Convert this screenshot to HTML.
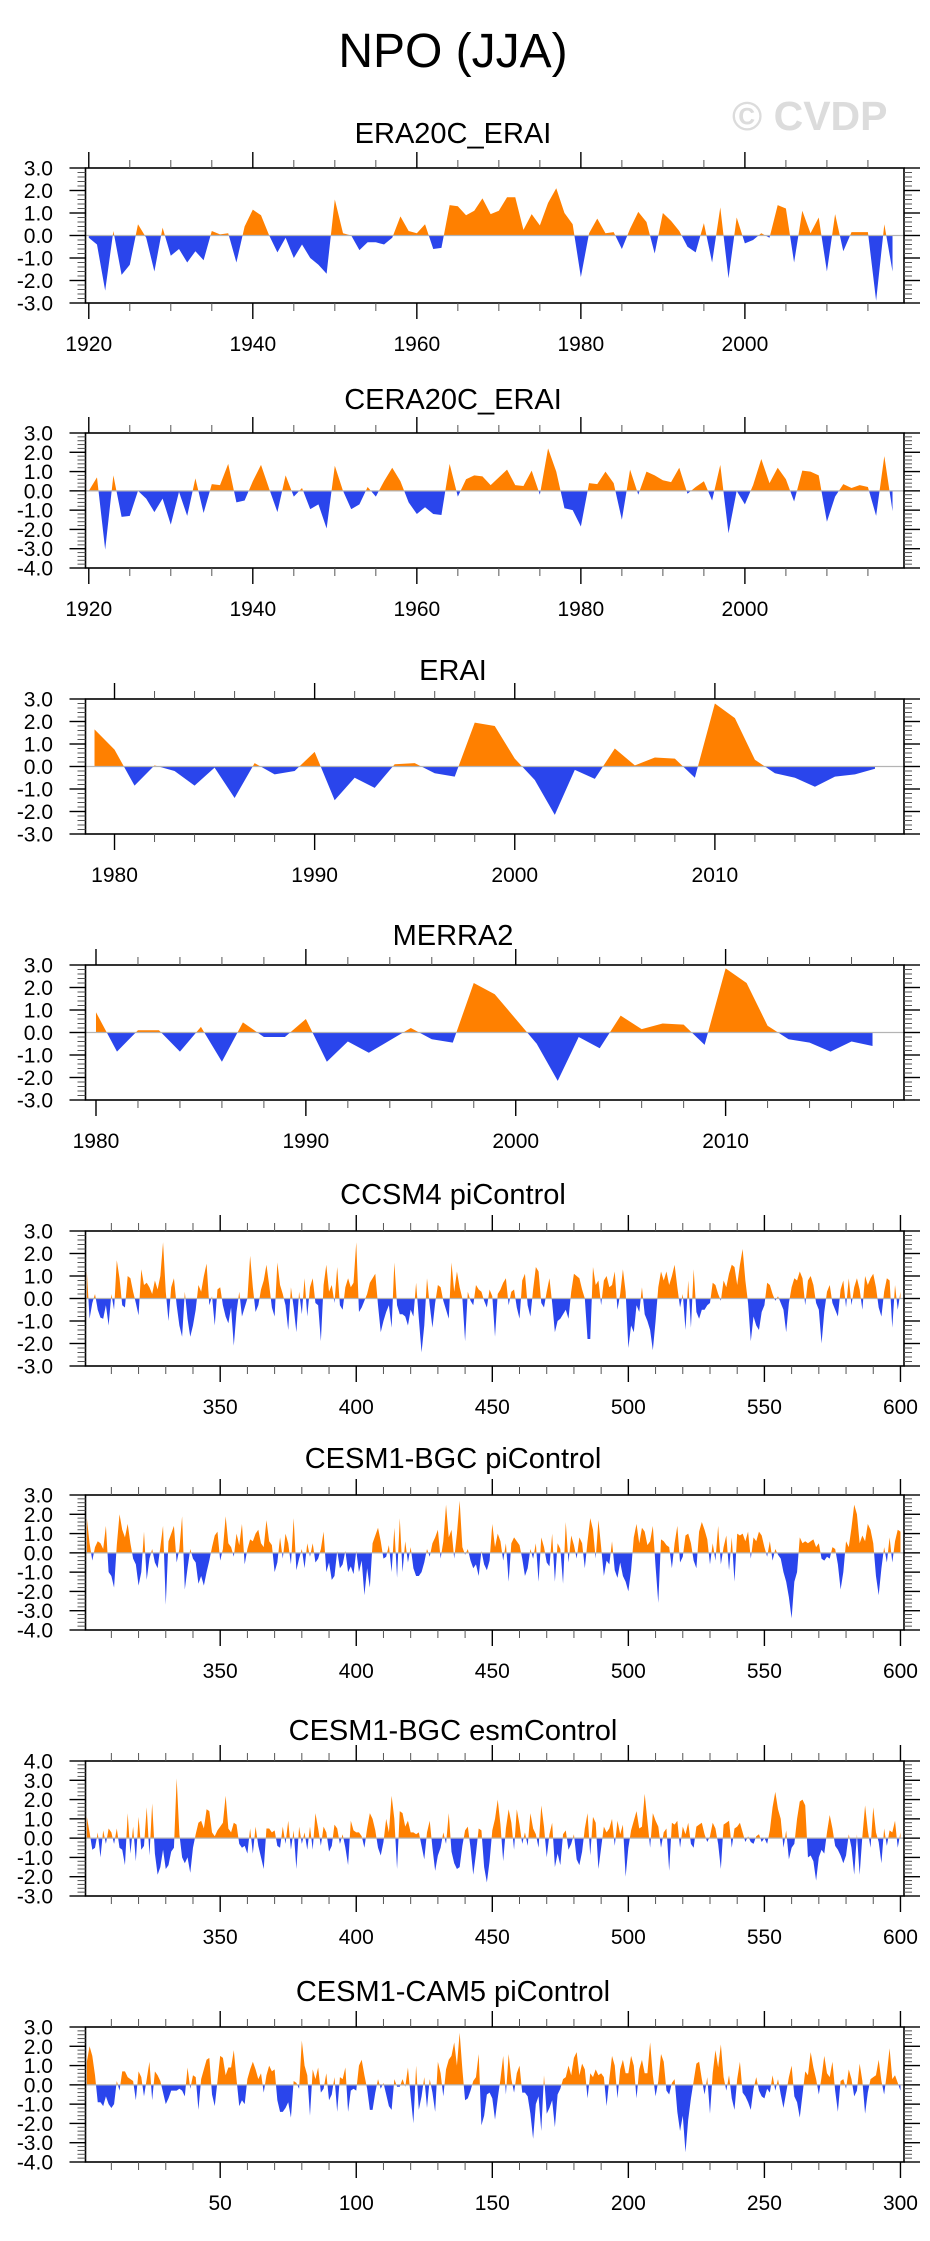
<!DOCTYPE html>
<html><head><meta charset="utf-8">
<style>
html,body{margin:0;padding:0;background:#fff;}
svg{display:block;font-family:"Liberation Sans",sans-serif;}
</style></head>
<body>
<svg id="chart" width="930" height="2241" viewBox="0 0 930 2241" xmlns="http://www.w3.org/2000/svg">
<text x="453" y="67" font-size="48" text-anchor="middle" fill="#000">NPO (JJA)</text>
<text x="732" y="130" font-size="41" font-weight="bold" fill="#dcdcdc">© CVDP</text>
</svg>
<script>
// ---- data ----
const era20cYears = [1920, 2018];
const era20cValues = [-0.1,-0.4,-2.45,0.2,-1.75,-1.3,0.5,-0.1,-1.6,0.35,-0.9,-0.6,-1.2,-0.7,-1.1,0.2,0.05,0.1,-1.2,0.4,1.15,0.9,0.0,-0.75,-0.1,-1.0,-0.4,-1.0,-1.3,-1.7,1.6,0.1,0.0,-0.65,-0.3,-0.3,-0.4,-0.1,0.85,0.2,0.1,0.5,-0.6,-0.55,1.35,1.3,0.9,1.1,1.65,0.95,1.1,1.7,1.7,0.25,0.95,0.45,1.45,2.1,1.0,0.5,-1.85,0.1,0.75,0.1,0.15,-0.6,0.3,1.05,0.6,-0.8,1.0,0.65,0.2,-0.5,-0.75,0.55,-1.2,1.25,-1.9,0.8,-0.35,-0.2,0.1,-0.1,1.35,1.2,-1.2,1.1,0.1,0.8,-1.6,0.95,-0.7,0.15,0.15,0.15,-2.9,0.5,-1.6];
const cera20cYears = [1920, 2018];
const cera20cValues = [0.0,0.7,-3.05,0.8,-1.35,-1.3,0.0,-0.4,-1.1,-0.4,-1.75,-0.05,-1.3,0.65,-1.15,0.35,0.3,1.4,-0.6,-0.5,0.5,1.35,0.1,-1.1,0.8,-0.3,0.15,-0.95,-0.7,-1.95,1.3,0.0,-0.95,-0.7,0.2,-0.3,0.5,1.2,0.5,-0.6,-1.2,-0.85,-1.2,-1.25,1.4,-0.3,0.6,0.8,0.75,0.3,0.7,1.1,0.3,0.25,1.05,-0.2,2.2,1.0,-0.9,-1.0,-1.85,0.4,0.35,1.0,0.4,-1.5,1.1,-0.2,1.0,0.8,0.55,0.45,1.2,-0.15,0.2,0.5,-0.5,1.35,-2.2,0.0,-0.7,0.3,1.65,0.4,1.2,0.6,-0.55,1.05,1.0,0.8,-1.6,-0.3,0.35,0.15,0.3,0.2,-1.3,1.8,-1.05];
const eraiYears = [1979, 2018];
const eraiValues = [1.65,0.75,-0.85,0.05,-0.2,-0.85,-0.05,-1.4,0.15,-0.35,-0.2,0.65,-1.5,-0.5,-0.95,0.1,0.15,-0.3,-0.45,1.95,1.8,0.35,-0.6,-2.15,-0.15,-0.55,0.8,0.05,0.4,0.35,-0.5,2.8,2.15,0.3,-0.3,-0.5,-0.9,-0.45,-0.35,-0.1];
const merra2Years = [1980, 2017];
const merra2Values = [0.9,-0.85,0.1,0.1,-0.85,0.25,-1.3,0.45,-0.2,-0.2,0.6,-1.3,-0.4,-0.9,-0.35,0.2,-0.3,-0.45,2.2,1.7,0.6,-0.5,-2.15,-0.2,-0.7,0.75,0.15,0.4,0.35,-0.55,2.85,2.2,0.3,-0.3,-0.45,-0.85,-0.4,-0.6];
const ccsm4Years = [301, 600];
const ccsm4Values = [1.2,-0.9,-0.2,0.2,-0.5,-0.85,-0.9,-0.3,-1.2,0.2,
-0.5,1.7,0.9,-0.3,-0.4,1.0,0.9,0.3,-0.2,-0.75,
1.3,0.6,0.7,0.5,0.2,0.8,0.4,1.0,2.5,0.3,
-1.0,0.5,0.9,-0.3,-1.2,-1.7,0.3,-0.9,-1.7,-1.2,
-0.5,0.6,0.3,1.0,1.55,-0.3,0.1,-1.2,0.4,0.5,
-0.3,-0.8,-1.1,-0.4,-2.1,-0.6,0.3,-0.8,-0.4,0.0,
1.9,0.5,-0.6,-0.3,0.4,0.8,1.5,0.6,-0.4,-0.8,
1.6,0.6,0.2,-0.3,-1.4,0.5,-0.4,-1.5,0.3,-0.7,
0.9,-0.8,0.5,0.9,-0.2,-0.3,-1.9,0.6,1.5,0.3,
0.6,-0.2,1.4,-0.3,-0.5,0.5,0.9,0.5,0.7,2.5,
-0.6,-0.4,-0.1,0.2,0.7,0.9,1.1,-0.3,-1.5,-1.0,
-0.6,-0.3,-1.3,1.6,-0.3,-0.7,-0.7,-0.8,-1.2,-0.5,
-0.8,0.7,-0.9,-2.4,-1.2,0.9,-0.3,-1.3,-0.2,0.6,
0.5,-0.1,-0.5,-0.9,1.6,0.3,1.2,0.5,0.0,-1.9,
0.3,-0.1,-0.3,0.6,0.4,0.3,-0.1,-0.4,0.4,0.1,
-1.7,0.2,0.4,0.7,0.9,-0.3,0.3,0.4,-0.4,-0.9,
0.8,1.1,-0.3,-0.8,0.4,1.4,1.2,-0.2,-0.4,0.3,
0.9,-0.2,-1.5,-1.0,-0.9,-0.7,-0.5,-0.9,0.3,1.1,
1.0,0.9,0.4,0.0,-1.8,-1.8,1.4,0.6,0.8,-0.3,
0.8,1.0,0.5,0.6,1.2,-0.5,0.2,1.3,0.3,-2.2,
-1.2,-1.5,-0.3,-0.6,0.5,-0.7,-1.0,-1.4,-2.3,-1.0,
0.5,1.2,0.8,1.2,0.6,1.0,1.5,0.5,-0.4,0.2,
-1.4,0.8,-1.3,1.3,-0.6,-0.9,-0.5,-0.5,-0.3,-0.2,
0.7,0.6,0.2,-0.1,0.8,0.5,1.1,1.5,1.4,0.6,
1.5,2.2,0.8,-0.2,-1.9,-0.8,-1.2,-1.4,-0.6,-0.3,
0.7,0.6,0.2,-0.1,0.1,-0.2,-0.5,-1.5,-0.2,0.5,
0.9,0.8,1.2,0.9,-0.3,0.8,1.0,0.6,-0.2,-0.5,
-2.0,-0.6,0.3,0.6,-0.2,-0.5,-0.8,0.4,0.8,-0.4,
0.9,-0.3,0.5,0.9,0.4,-0.5,1.0,0.6,0.9,1.1,
0.5,-0.4,-0.8,0.3,0.9,0.8,-1.3,0.6,-0.5,0.3];
const bgcPiYears = [301, 600];
const bgcPiValues = [1.8,0.5,-0.4,0.3,0.6,0.5,0.2,1.4,-1.0,-1.2,
-1.8,0.4,2.0,1.2,0.8,1.5,0.5,-0.3,-0.6,-1.7,
-1.0,1.1,-1.4,-0.3,0.2,-0.5,-0.8,0.3,1.4,-2.7,
0.6,1.0,1.4,-0.5,0.2,1.9,-1.9,-0.8,0.2,-0.3,
-0.5,-1.6,-1.2,-1.7,-1.0,-0.4,0.3,0.9,1.1,-0.4,
0.2,1.9,0.5,0.3,-0.2,1.0,0.4,1.5,-0.6,0.2,
0.7,0.6,1.0,1.2,0.5,0.3,1.7,0.6,0.4,-1.0,
-0.5,0.8,-0.3,1.0,0.5,-0.6,1.8,-0.9,-0.3,0.2,
-0.8,0.5,-0.2,0.5,-0.5,-0.3,0.2,1.1,-1.0,-0.5,
-1.4,-1.2,0.1,-0.8,-0.6,0.1,-1.0,-0.7,-1.1,0.1,
-1.0,-0.4,-2.2,-0.8,-1.8,0.5,0.9,1.3,0.6,-0.3,
-0.2,0.4,-1.0,1.3,-1.3,1.8,-1.0,0.6,-0.5,0.3,
-0.8,-1.2,-1.2,-1.0,-0.5,0.2,-0.2,0.5,0.8,1.2,
-0.3,0.6,2.5,0.8,1.2,-0.3,1.0,2.7,0.3,-0.1,
0.2,-0.4,-0.8,-0.6,-1.2,0.1,-0.6,-0.9,-0.4,1.5,
0.3,1.0,0.6,-0.4,0.5,-1.5,0.5,0.8,0.6,0.4,
-0.3,-1.2,-0.8,0.2,-0.3,0.5,-1.5,0.8,0.3,-0.5,
-0.7,1.0,-1.5,0.5,0.2,-1.6,1.6,-0.5,0.9,0.4,
-0.3,0.8,0.5,-0.8,0.6,1.8,1.2,-0.3,1.7,0.3,
-1.2,-0.4,-0.6,0.6,-0.9,-1.3,-0.5,-1.2,-1.5,-2.0,
-0.9,0.8,1.5,0.5,1.3,1.1,0.4,0.6,1.4,-0.7,
-2.6,0.7,0.6,0.4,0.3,-0.8,0.5,1.4,-0.5,-0.2,
0.9,1.0,0.5,-0.4,-0.8,1.1,1.6,1.2,0.7,-0.6,
0.5,-0.4,1.4,-0.6,0.3,0.9,-0.9,0.8,-1.5,1.0,
0.9,1.0,0.6,1.1,-0.3,0.8,0.6,1.1,0.9,0.3,
-0.2,0.6,-0.4,0.2,-0.1,-0.3,-1.0,-1.5,-2.3,-3.4,
-1.5,-1.0,0.8,0.5,0.6,0.5,0.6,0.7,0.3,0.5,
-0.3,-0.4,-0.2,-0.3,0.3,0.2,-0.6,-1.9,-1.0,0.6,
0.3,1.3,2.5,2.0,0.5,0.9,0.6,1.5,1.2,0.5,
-1.2,-2.2,-0.8,0.3,-0.5,0.8,-0.5,0.6,1.2,1.1];
const bgcEsmYears = [301, 600];
const bgcEsmValues = [1.1,0.3,-0.6,-0.5,0.3,-1.0,0.4,-0.3,0.5,0.3,
-0.3,0.5,-0.5,-0.6,-1.4,1.3,-0.8,0.6,-1.2,1.1,
-0.6,-0.4,1.6,-0.9,1.8,-0.8,-1.9,-1.5,-0.6,-1.6,
-1.4,-0.7,-0.5,3.1,0.2,-1.0,-1.3,-1.0,-1.8,-0.5,
0.2,0.8,0.9,0.5,1.5,1.4,0.3,0.1,0.4,0.6,
0.8,2.2,0.5,0.3,0.8,0.7,-0.3,-0.5,-0.4,-0.8,
0.5,-0.8,0.6,-0.4,-1.0,-1.6,0.5,0.5,0.3,0.4,
-0.4,-0.5,0.6,-0.3,0.9,-0.6,0.4,-1.6,0.6,-0.3,
0.3,-0.6,0.6,-0.6,1.3,0.5,-0.4,0.6,0.3,-0.7,
-0.4,0.7,0.5,-0.3,0.2,-0.5,-1.4,0.9,0.4,0.3,
0.3,0.1,-0.5,0.5,1.3,1.0,0.4,-0.5,-0.9,-0.2,
1.0,0.3,2.2,1.0,-1.6,1.4,1.3,0.6,0.9,0.3,
0.3,0.2,0.3,-0.4,-1.1,0.3,0.9,-0.5,-1.7,-0.9,
-0.5,0.3,-0.3,1.3,-0.7,-1.3,-1.6,-1.5,-0.4,0.4,
0.6,-0.5,-1.9,-0.8,0.5,0.4,-1.5,-2.3,-1.2,0.4,
1.0,2.0,0.7,-1.2,0.5,1.5,0.8,-0.6,1.5,0.7,
-0.3,0.3,-0.4,1.3,0.5,0.2,-0.5,1.7,0.6,-1.0,
0.2,0.8,-1.5,-0.8,-1.4,0.2,0.4,-0.6,-0.3,0.2,
-1.1,-1.4,-0.7,0.5,1.3,-0.9,1.1,0.8,-1.6,-0.5,
0.6,0.3,0.5,1.0,-0.4,0.9,0.2,0.7,-2.0,-0.5,
0.4,0.9,1.4,0.5,0.6,2.3,0.9,-0.5,1.3,0.9,
0.6,-0.5,0.3,0.5,-1.7,0.8,0.7,0.9,-0.5,0.6,
0.2,0.8,-0.3,-0.5,0.6,0.7,0.8,0.2,-0.2,0.1,
0.8,0.5,-0.3,-1.6,0.7,0.8,0.9,-0.5,0.5,0.6,
0.8,0.3,-0.2,0.1,-0.2,-0.3,0.1,0.2,-0.2,0.0,
-0.3,0.4,1.6,2.4,1.5,1.0,-0.5,0.4,-1.1,-0.5,
-0.3,1.0,1.9,2.0,1.7,-1.0,-0.9,-1.2,-2.2,-1.0,
-0.6,-0.8,0.3,1.2,0.5,-0.4,-0.6,-0.9,-1.3,-0.9,
0.2,-0.5,-1.9,0.2,-1.9,0.1,1.7,0.4,-0.5,1.6,
0.3,-0.2,-1.3,0.5,-0.4,0.4,0.3,0.9,-0.5,0.3];
const cam5Years = [1, 300];
const cam5Values = [1.2,2.0,1.5,0.5,-0.9,-0.9,-1.1,-0.6,-1.0,-1.2,
-1.0,0.2,-0.3,0.7,0.7,0.4,0.3,0.2,-0.8,0.7,
0.4,-0.6,0.3,1.2,-0.8,0.7,0.5,0.2,-0.4,-1.0,
-0.7,-0.3,-0.3,-0.3,-0.2,-0.3,-0.6,0.9,-0.2,0.5,
0.4,-1.3,0.3,0.8,1.3,1.4,-0.5,-1.1,0.2,1.5,
1.4,0.5,0.9,0.9,1.8,0.3,-1.1,-0.8,-1.0,0.3,
0.8,1.2,0.8,0.3,0.6,-0.4,0.5,1.0,0.7,0.8,
-0.8,-1.4,-1.4,-1.2,-0.9,-1.7,0.2,0.1,-0.2,2.3,
1.0,0.5,-1.6,0.8,0.3,0.9,-0.4,-0.2,0.6,-0.8,
-0.5,0.4,-1.4,0.4,0.3,0.9,-1.4,-0.3,-0.2,-0.3,
1.0,1.3,0.5,-0.2,-1.3,-1.3,-0.4,0.3,-0.2,0.1,
-0.5,-1.1,-1.3,0.3,-0.1,-0.1,0.3,-0.1,0.9,-0.6,
-2.0,1.0,-1.3,-0.6,0.4,-1.2,0.3,-0.4,-1.4,1.2,
0.6,-0.6,0.8,1.3,1.5,2.2,1.0,2.7,0.8,-0.8,
-0.7,-0.3,0.2,0.4,1.6,-2.1,-1.6,-0.5,-0.4,-0.7,
-1.8,-0.7,0.3,1.5,-0.5,1.6,0.3,-0.4,0.6,1.0,
-0.4,-0.4,-0.6,-1.5,-2.8,-1.0,-0.6,-2.4,0.5,-1.5,
-1.2,-0.8,-2.2,-0.5,-0.2,0.3,0.4,1.0,0.5,1.4,
1.7,0.5,1.1,0.8,-0.7,0.6,0.4,0.8,0.5,0.6,
0.4,-1.1,0.3,1.5,1.0,-0.7,0.8,1.3,0.6,0.6,
1.5,1.0,-0.7,0.8,1.3,0.6,0.6,2.2,0.5,-0.6,
0.2,1.6,1.2,-0.3,-0.5,0.1,0.3,-1.4,-2.4,-1.6,
-3.5,-1.8,-0.7,0.2,1.1,1.2,0.3,-0.5,0.4,-1.5,
0.6,1.8,0.9,2.1,0.4,-0.3,0.5,-0.7,-1.3,0.3,
1.2,-0.4,-0.6,-0.9,-1.3,-0.2,0.4,-0.3,-0.6,-0.7,
-0.2,-0.4,0.5,-0.3,0.3,-0.5,-1.2,-0.4,0.4,1.0,
-0.6,-0.9,-1.7,-0.5,0.7,0.5,1.7,0.9,0.3,-0.5,
0.4,1.5,0.6,0.4,1.2,-0.3,-1.4,0.2,0.3,-0.2,
0.8,0.3,-0.6,-0.3,1.1,0.2,-1.5,-0.4,0.3,0.4,
0.5,1.3,0.2,-0.5,0.6,1.9,0.3,0.5,0.1,-0.3];

const panelTitles = ["ERA20C_ERAI","CERA20C_ERAI","ERAI","MERRA2","CCSM4 piControl","CESM1-BGC piControl","CESM1-BGC esmControl","CESM1-CAM5 piControl"];
const panelSeries = [era20cValues, cera20cValues, eraiValues, merra2Values, ccsm4Values, bgcPiValues, bgcEsmValues, cam5Values];
const panelYears = [era20cYears, cera20cYears, eraiYears, merra2Years, ccsm4Years, bgcPiYears, bgcEsmYears, cam5Years];
const yMinVals = [-3,-4,-3,-3,-3,-4,-3,-4];
const yMaxVals = [3,3,3,3,3,3,4,3];
const xTickLabels = [[1920,1940,1960,1980,2000],[1920,1940,1960,1980,2000],[1980,1990,2000,2010],[1980,1990,2000,2010],[350,400,450,500,550,600],[350,400,450,500,550,600],[350,400,450,500,550,600],[50,100,150,200,250,300]];

// ---- layout (not data) ----
const NS = "http://www.w3.org/2000/svg";
const svg = document.getElementById("chart");
const L = 85.5, R = 904, H = 135;
const tops = [168,433,699,965,1231,1495,1761,2027];
const titleBase = [143,409,680,945,1204,1468,1740,2001];
const xDomains = [[1919.6,2019.4],[1919.6,2019.4],[1978.55,2019.45],[1979.5,2018.5],[300.5,601.3],[300.5,601.3],[300.5,601.3],[0.5,301.3]];
const majorStep = [20,20,10,10,50,50,50,50];
const minorStep = [5,5,2,2,10,10,10,10];
const ORANGE = "#ff8000", BLUE = "#2a45ec";

function el(tag, attrs, parent){
  const e = document.createElementNS(NS, tag);
  for (const k in attrs) e.setAttribute(k, attrs[k]);
  (parent || svg).appendChild(e);
  return e;
}

for (let p = 0; p < 8; p++) {
  const top = tops[p], bot = top + H;
  const [x0, x1] = xDomains[p];
  const ymin = yMinVals[p], ymax = yMaxVals[p];
  const xs = v => L + (v - x0) / (x1 - x0) * (R - L);
  const ys = v => bot - (v - ymin) / (ymax - ymin) * H;
  const g = el("g", {});
  
  

  const t = el("text", {x: 453, y: titleBase[p], "font-size": 29, "text-anchor": "middle", fill: "#000"}, g);
  t.textContent = panelTitles[p];
  
  

  // clip paths
  const y0 = ys(0);
  const defs = el("defs", {}, g);
  const cpA = el("clipPath", {id: "ca" + p}, defs);
  el("rect", {x: L, y: top, width: R - L, height: y0 - top}, cpA);
  const cpB = el("clipPath", {id: "cb" + p}, defs);
  el("rect", {x: L, y: y0, width: R - L, height: bot - y0}, cpB);

  const vals = panelSeries[p];
  const yr0 = panelYears[p][0];
  let pts = xs(yr0).toFixed(2) + "," + y0.toFixed(2);
  for (let i = 0; i < vals.length; i++) pts += " " + xs(yr0 + i).toFixed(2) + "," + ys(vals[i]).toFixed(2);
  pts += " " + xs(yr0 + vals.length - 1).toFixed(2) + "," + y0.toFixed(2);

  const pos = el("polygon", {points: pts, fill: ORANGE, "clip-path": "url(#ca" + p + ")"}, g);
  
  
  const neg = el("polygon", {points: pts, fill: BLUE, "clip-path": "url(#cb" + p + ")"}, g);
  
  

  const zl = el("line", {x1: L, x2: R, y1: y0, y2: y0, stroke: "#b4b4b4", "stroke-width": 1.2}, g);
  
  

  const frame = el("rect", {x: L, y: top, width: R - L, height: H, fill: "none", stroke: "#000", "stroke-width": 1.6}, g);
  
  

  // y ticks
  for (let k = Math.round(ymin * 5); k <= Math.round(ymax * 5); k++) {
    const v = k / 5, yy = ys(v), major = (k % 5 === 0);
    const len = major ? 16 : 8;
    el("line", {x1: L - len, x2: L, y1: yy, y2: yy, stroke: major ? "#000" : "#555", "stroke-width": major ? 1.4 : 1}, g);
    el("line", {x1: R, x2: R + len, y1: yy, y2: yy, stroke: major ? "#000" : "#555", "stroke-width": major ? 1.4 : 1}, g);
    if (major) {
      const lab = el("text", {x: 53, y: yy + 7.5, "font-size": 21, "text-anchor": "end", fill: "#000"}, g);
      lab.textContent = v.toFixed(1);
      
      
    }
  }
  // x ticks
  const ms = minorStep[p];
  for (let v = Math.ceil(x0 / ms) * ms; v <= x1; v += ms) {
    const xx = xs(v), major = (v % majorStep[p] === 0);
    const len = major ? 16 : 8;
    el("line", {x1: xx, x2: xx, y1: top - len, y2: top, stroke: major ? "#000" : "#555", "stroke-width": major ? 1.4 : 1}, g);
    el("line", {x1: xx, x2: xx, y1: bot, y2: bot + len, stroke: major ? "#000" : "#555", "stroke-width": major ? 1.4 : 1}, g);
  }
  for (const v of xTickLabels[p]) {
    const lab = el("text", {x: xs(v), y: bot + 48, "font-size": 21, "text-anchor": "middle", fill: "#000"}, g);
    lab.textContent = String(v);
    
    
  }
}
</script>
</body></html>
